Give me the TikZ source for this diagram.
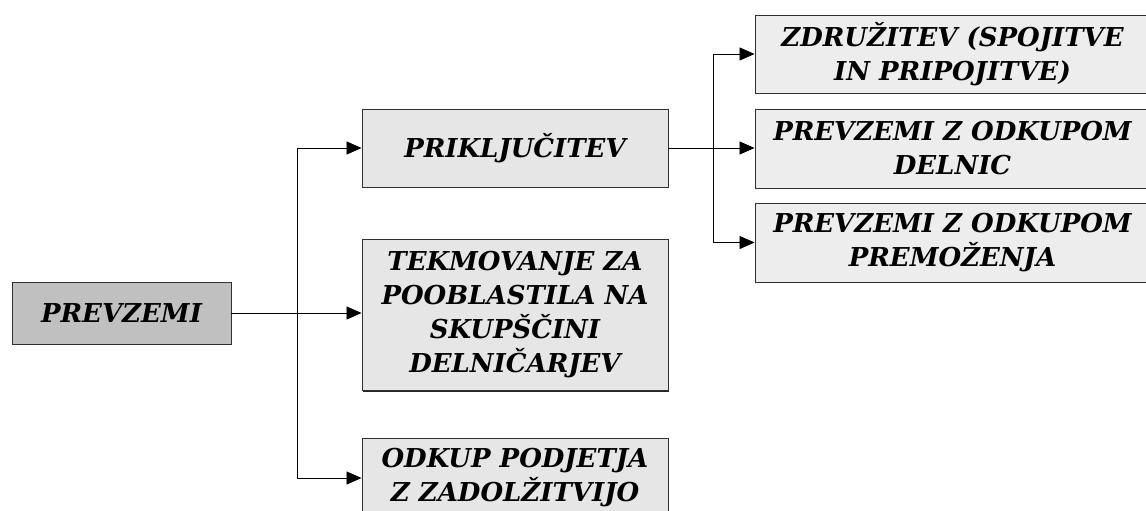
\documentclass[tikz,border=0pt]{standalone}
\usepackage{fontspec}
\setmainfont{DejaVu Serif}
\usetikzlibrary{arrows.meta,shadows}
\definecolor{maingray}{HTML}{C0C0C0}
\definecolor{lightbox}{HTML}{E6E6E6}
\definecolor{lighterbox}{HTML}{EDEDED}
\definecolor{edge}{HTML}{303030}
\begin{document}
\begin{tikzpicture}[x=1pt,y=-1pt,
  box/.style={draw=edge, line width=0.9pt, fill=lightbox, inner sep=0pt, align=center,
    font=\fontsize{26}{34}\selectfont\bfseries\itshape,
    drop shadow={shadow xshift=1.3pt, shadow yshift=-1.3pt, fill=black!85, opacity=1}},
  rbox/.style={box, fill=lighterbox, minimum width=395pt},
  conn/.style={line width=0.8pt, draw=black},
  arr/.style={conn, -{Triangle[length=15pt,width=13pt]}}]
\useasboundingbox (0,0) rectangle (1146,511);
\node[box, fill=maingray, minimum width=219pt, minimum height=62pt] (prev) at (121.5,313) {PREVZEMI};
\node[box, minimum width=306pt, minimum height=78pt] (pri) at (515,148) {PRIKLJUČITEV};
\node[box, minimum width=306pt, minimum height=151pt] (tek) at (515,315) {TEKMOVANJE ZA\\POOBLASTILA NA\\SKUPŠČINI\\DELNIČARJEV};
\node[box, minimum width=306pt, minimum height=80pt] (odk) at (515,478) {ODKUP PODJETJA\\Z ZADOLŽITVIJO};
\node[rbox, minimum height=78pt] (r1) at (952.5,54) {ZDRUŽITEV (SPOJITVE\\IN PRIPOJITVE)};
\node[rbox, minimum height=79pt] (r2) at (952.5,148.5) {PREVZEMI Z ODKUPOM\\DELNIC};
\node[rbox, minimum height=79pt] (r3) at (952.5,242.5) {PREVZEMI Z ODKUPOM\\PREMOŽENJA};
\coordinate (j1) at (297,313);
\coordinate (j2) at (713,148);
\draw[arr] (prev.east) -- (tek.west |- prev.east);
\draw[conn] (j1 |- pri.west) -- (j1 |- odk.west);
\draw[arr] (j1 |- pri.west) -- (pri.west);
\draw[arr] (j1 |- odk.west) -- (odk.west);
\draw[arr] (pri.east) -- (r2.west |- pri.east);
\draw[conn] (j2 |- r1.west) -- (j2 |- r3.west);
\draw[arr] (j2 |- r1.west) -- (r1.west);
\draw[arr] (j2 |- r3.west) -- (r3.west);
\end{tikzpicture}
\end{document}
